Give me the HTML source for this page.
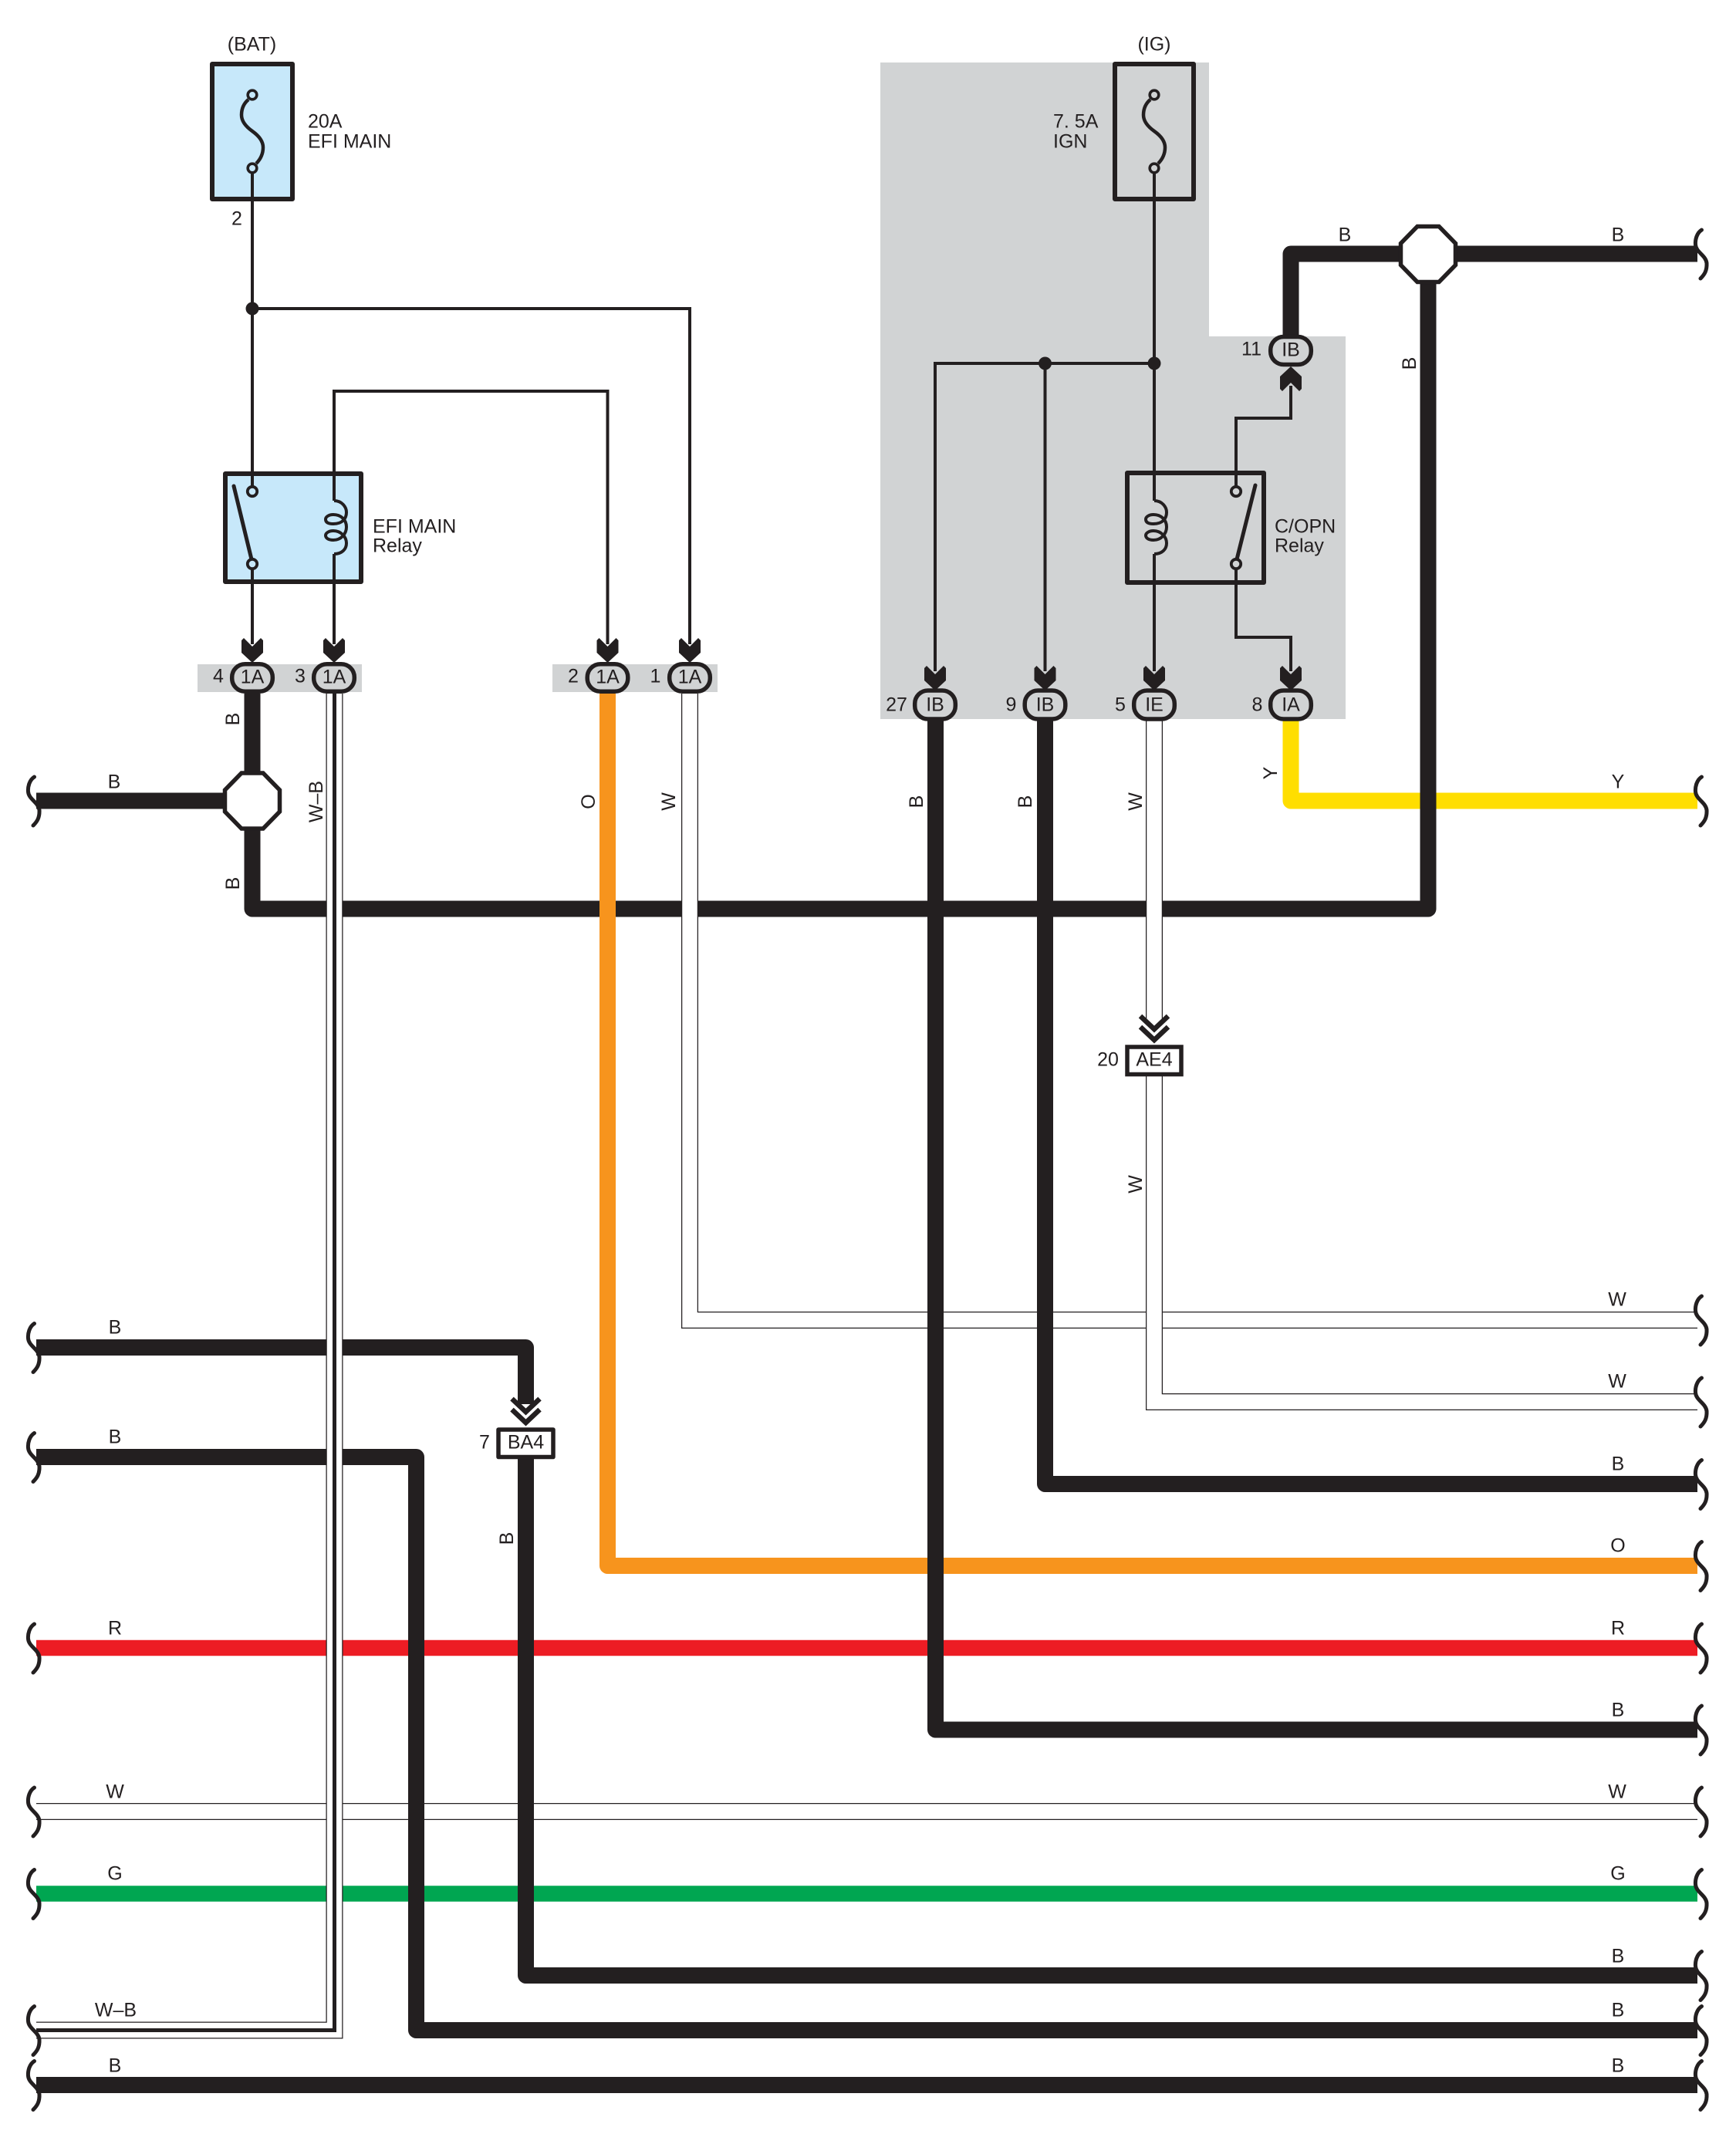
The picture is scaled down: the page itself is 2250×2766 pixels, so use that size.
<!DOCTYPE html>
<html><head><meta charset="utf-8"><title>Wiring diagram</title>
<style>
html,body{margin:0;padding:0;background:#fff}
svg{display:block}
text{font-family:"Liberation Sans",sans-serif;font-size:25px;fill:#231f20}
.m{text-anchor:middle}
.w{fill:none;stroke:#231f20;stroke-width:4;stroke-linejoin:miter}
.k{fill:none;stroke:#231f20;stroke-width:21;stroke-linejoin:round}
.bx{stroke:#231f20;stroke-width:6;stroke-linejoin:round}
.pill{fill:#d1d3d4;stroke:#231f20;stroke-width:5.5}
.brk{fill:none;stroke:#231f20;stroke-width:5;stroke-linecap:round}
</style></head><body>
<svg xmlns="http://www.w3.org/2000/svg" width="2250" height="2766" viewBox="0 0 2250 2766">
<defs>
<path id="bl" class="brk" d="M44.5,-31 C38,-27 36,-18 36.5,-12 C37,-2 50,2 51,12 C51.5,22 48,27 43,32"/>
<path id="br" class="brk" d="M2205.5,-31 C2199,-27 2197,-18 2197.5,-12 C2198,-2 2211,2 2212,12 C2212.5,22 2209,27 2204,32"/>
<polygon id="ah" fill="#231f20" points="-11,0 -14,3 -14,19 0,32 14,19 14,3 11,0 0,11"/>
<path id="coil" fill="none" stroke="#231f20" stroke-width="4" d="M433,649 C443,649 449,657 449,664 C449,672 444,679 432,679 C424,679 422,676 422,673 C422,670 426,667 432,667 C442,667 449,674 449,683 C449,692 442,700 432,700 C425,700 422,697 422,694 C422,691 426,688 432,688 C442,688 449,696 449,704 C449,712 443,718 433,718"/>
<path id="fs" fill="none" stroke="#231f20" stroke-width="4.5" d="M322,129 C316,134 313,141 313,149 C313,158 320,165 327,170 C334,175 341,182 341,191 C341,199 338,206 332,212"/>
<polygon id="oct" fill="#fff" stroke="#231f20" stroke-width="5.5" points="-14,-36 14,-36 35.5,-14 35.5,14 14,36 -14,36 -35.5,14 -35.5,-14"/>
<g id="chev" fill="none" stroke="#231f20" stroke-width="6.5"><polyline points="-18,-37 0,-20 18,-37"/><polyline points="-18,-23 0,-6 18,-23"/></g>
</defs>

<!-- gray regions -->
<polygon fill="#d1d3d4" points="1141,81 1567,81 1567,436 1744,436 1744,932 1141,932"/>
<rect x="256" y="861" width="213" height="36" fill="#d1d3d4"/>
<rect x="716" y="861" width="214" height="36" fill="#d1d3d4"/>

<!-- coloured wires under black -->
<path d="M1673,933 V1038 H2200" class="k" style="stroke:#ffde00"/>
<path d="M47,2136 H2200" fill="none" stroke="#ed1c24" stroke-width="20.5"/>
<path d="M47,2454.5 H2200" fill="none" stroke="#00a651" stroke-width="20.5"/>
<path d="M47,2348 H2200" fill="none" stroke="#231f20" stroke-width="22"/>
<path d="M47,2348 H2200" fill="none" stroke="#fff" stroke-width="19.5"/>

<!-- black main -->
<path d="M327,899 V1178 H1851 V368" class="k"/>
<path d="M47,1038 H300" class="k"/>

<!-- orange -->
<path d="M787.5,899 V2029.5 H2200" class="k" style="stroke:#f7941d"/>

<!-- W from pin 1 -->
<path d="M894,899 V1711 H2200" fill="none" stroke="#231f20" stroke-width="22"/>
<path d="M894,899 V1711 H2200" fill="none" stroke="#fff" stroke-width="19.5"/>

<!-- black wires -->
<path d="M1212.5,933 V2242 H2200" class="k"/>
<path d="M1354.5,933 V1923.5 H2200" class="k"/>
<path d="M47,1746.5 H681.5 V1820" class="k"/>
<path d="M681.5,1890 V2560.5 H2200" class="k"/>
<path d="M47,1888.5 H539.5 V2631.5 H2200" class="k"/>
<path d="M47,2702.5 H2200" class="k"/>
<path d="M1673,434 V329 H1830" class="k"/>
<path d="M1870,329 H2200" class="k"/>

<!-- W from IE -->
<path d="M1496,933 V1322 M1496,1395 V1817 H2200" fill="none" stroke="#231f20" stroke-width="22"/>
<path d="M1496,933 V1322 M1496,1395 V1817 H2200" fill="none" stroke="#fff" stroke-width="19.5"/>

<!-- W-B -->
<path d="M433.5,899 V2631.5 H47" fill="none" stroke="#231f20" stroke-width="22"/>
<path d="M433.5,899 V2631.5 H47" fill="none" stroke="#fff" stroke-width="19.5"/>
<path d="M433.5,899 V2631.5 H47" fill="none" stroke="#231f20" stroke-width="5"/>

<!-- Fuse 1 -->
<rect x="275" y="83" width="104" height="175" fill="#c7e8fa" class="bx"/>
<use href="#fs"/>
<circle cx="327" cy="123" r="5.8" fill="#c7e8fa" stroke="#231f20" stroke-width="3.6"/>
<circle cx="327" cy="218" r="5.8" fill="#c7e8fa" stroke="#231f20" stroke-width="3.6"/>
<!-- Fuse 2 -->
<rect x="1445" y="83" width="102" height="175" fill="none" class="bx"/>
<use href="#fs" x="1169"/>
<circle cx="1496" cy="123" r="5.8" fill="#d1d3d4" stroke="#231f20" stroke-width="3.6"/>
<circle cx="1496" cy="218" r="5.8" fill="#d1d3d4" stroke="#231f20" stroke-width="3.6"/>

<!-- Relay 1 -->
<rect x="292" y="614" width="176" height="140" fill="#c7e8fa" class="bx"/>
<use href="#coil"/>
<line x1="303" y1="630" x2="326" y2="725" stroke="#231f20" stroke-width="5" stroke-linecap="round"/>
<circle cx="327" cy="637" r="6.2" fill="#c7e8fa" stroke="#231f20" stroke-width="3.8"/>
<circle cx="327" cy="731" r="6.2" fill="#c7e8fa" stroke="#231f20" stroke-width="3.8"/>
<!-- Relay 2 -->
<rect x="1461" y="613" width="177" height="142" fill="none" class="bx"/>
<use href="#coil" x="1063"/>
<line x1="1627" y1="629" x2="1603" y2="725" stroke="#231f20" stroke-width="5" stroke-linecap="round"/>
<circle cx="1602" cy="637" r="6.2" fill="#d1d3d4" stroke="#231f20" stroke-width="3.8"/>
<circle cx="1602" cy="731" r="6.2" fill="#d1d3d4" stroke="#231f20" stroke-width="3.8"/>

<!-- thin wires -->
<path class="w" d="M327,225 V631"/>
<path class="w" d="M327,400 H894 V835"/>
<path class="w" d="M433,649 V507 H787.5 V835"/>
<path class="w" d="M327,737 V835 M433,718 V835"/>
<path class="w" d="M1496,225 V649 M1496,718 V870"/>
<path class="w" d="M1212,870 V471 H1496"/>
<path class="w" d="M1354.5,471 V870"/>
<path class="w" d="M1673,500 V542 H1602 V631"/>
<path class="w" d="M1602,737 V826 H1673 V870"/>
<circle cx="327" cy="400" r="8.5" fill="#231f20"/>
<circle cx="1354.5" cy="471" r="8.5" fill="#231f20"/>
<circle cx="1496" cy="471" r="8.5" fill="#231f20"/>

<!-- octagons -->
<use href="#oct" x="327" y="1038"/>
<use href="#oct" x="1851" y="329.5"/>

<!-- arrows -->
<use href="#ah" x="327" y="827"/>
<use href="#ah" x="433" y="827"/>
<use href="#ah" x="787.5" y="827"/>
<use href="#ah" x="894" y="827"/>
<use href="#ah" x="1212" y="863"/>
<use href="#ah" x="1354.5" y="863"/>
<use href="#ah" x="1496" y="863"/>
<use href="#ah" x="1673" y="863"/>
<polygon fill="#231f20" points="1662,507 1659,504 1659,488 1673,475 1687,488 1687,504 1684,507 1673,496"/>

<!-- pills -->
<rect class="pill" x="300.7" y="860.7" width="52.6" height="35.6" rx="17" />
<rect class="pill" x="406.7" y="860.7" width="52.6" height="35.6" rx="17" />
<rect class="pill" x="761.2" y="860.7" width="52.6" height="35.6" rx="17" />
<rect class="pill" x="867.7" y="860.7" width="52.6" height="35.6" rx="17" />
<rect class="pill" x="1185.7" y="895" width="52.6" height="37" rx="17" />
<rect class="pill" x="1328.2" y="895" width="52.6" height="37" rx="17" />
<rect class="pill" x="1469.7" y="895" width="52.6" height="37" rx="17" />
<rect class="pill" x="1646.7" y="895" width="52.6" height="37" rx="17" />
<rect class="pill" x="1646.7" y="436.5" width="52.6" height="36" rx="17" />

<!-- boxes -->
<use href="#chev" x="1496" y="1354"/>
<rect x="1461" y="1357" width="70" height="35.5" fill="#fff" stroke="#231f20" stroke-width="5.5"/>
<use href="#chev" x="681.5" y="1850"/>
<rect x="646" y="1853" width="71" height="35.5" fill="#fff" stroke="#231f20" stroke-width="5.5" stroke-linejoin="round"/>

<!-- brackets left -->
<use href="#bl" y="1038"/><use href="#bl" y="1746.5"/><use href="#bl" y="1888.5"/><use href="#bl" y="2136"/><use href="#bl" y="2348"/><use href="#bl" y="2454.5"/><use href="#bl" y="2631.5"/><use href="#bl" y="2702.5"/>
<!-- brackets right -->
<use href="#br" y="329"/><use href="#br" y="1038"/><use href="#br" y="1711"/><use href="#br" y="1817"/><use href="#br" y="1923.5"/><use href="#br" y="2029.5"/><use href="#br" y="2136"/><use href="#br" y="2242"/><use href="#br" y="2348"/><use href="#br" y="2454.5"/><use href="#br" y="2560.5"/><use href="#br" y="2631.5"/><use href="#br" y="2702.5"/>

<!-- labels -->
<g transform="translate(0,-1.5)">
<text class="m" x="326.5" y="67">(BAT)</text>
<text class="m" x="1496" y="67">(IG)</text>
<text x="399" y="167">20A</text>
<text x="399" y="193">EFI MAIN</text>
<text class="m" x="307" y="293">2</text>
<text x="1365" y="167">7. 5A</text>
<text x="1365" y="193">IGN</text>
<text x="483" y="692">EFI MAIN</text>
<text x="483" y="717">Relay</text>
<text x="1652" y="692">C/OPN</text>
<text x="1652" y="717">Relay</text>

<text class="m" x="327" y="887">1A</text>
<text class="m" x="433" y="887">1A</text>
<text class="m" x="787.5" y="887">1A</text>
<text class="m" x="894" y="887">1A</text>
<text class="m" x="283" y="886">4</text>
<text class="m" x="389" y="886">3</text>
<text class="m" x="743" y="886">2</text>
<text class="m" x="849.5" y="886">1</text>

<text class="m" x="1212" y="923">IB</text>
<text class="m" x="1354.5" y="923">IB</text>
<text class="m" x="1496" y="923">IE</text>
<text class="m" x="1673" y="923">IA</text>
<text class="m" x="1673" y="463">IB</text>
<text class="m" x="1162" y="923">27</text>
<text class="m" x="1310.5" y="923">9</text>
<text class="m" x="1452" y="923">5</text>
<text class="m" x="1629.5" y="923">8</text>
<text class="m" x="1622" y="462">11</text>

<text class="m" x="1496" y="1383">AE4</text>
<text class="m" x="1436" y="1383">20</text>
<text class="m" x="681.5" y="1879">BA4</text>
<text class="m" x="628" y="1879">7</text>

<!-- wire labels horizontal -->
<text class="m" x="1743" y="314">B</text>
<text class="m" x="2097" y="314">B</text>
<text class="m" x="148" y="1023">B</text>
<text class="m" x="2097" y="1023">Y</text>
<text class="m" x="2096" y="1694">W</text>
<text class="m" x="2096" y="1800">W</text>
<text class="m" x="2097" y="1907">B</text>
<text class="m" x="2097" y="2013">O</text>
<text class="m" x="2097" y="2120">R</text>
<text class="m" x="2097" y="2226">B</text>
<text class="m" x="2096" y="2332">W</text>
<text class="m" x="2097" y="2438">G</text>
<text class="m" x="2097" y="2545">B</text>
<text class="m" x="2097" y="2615">B</text>
<text class="m" x="2097" y="2687">B</text>
<text class="m" x="149" y="1730">B</text>
<text class="m" x="149" y="1872">B</text>
<text class="m" x="149" y="2120">R</text>
<text class="m" x="149" y="2332">W</text>
<text class="m" x="149" y="2438">G</text>
<text class="m" x="150" y="2615">W–B</text>
<text class="m" x="149" y="2687">B</text>
</g>

<!-- wire labels rotated -->
<text class="m" y="9" transform="translate(301,932) rotate(-90)">B</text>
<text class="m" y="9" transform="translate(301,1145) rotate(-90)">B</text>
<text class="m" y="9" transform="translate(409,1039) rotate(-90)">W–B</text>
<text class="m" y="9" transform="translate(762,1039) rotate(-90)">O</text>
<text class="m" y="9" transform="translate(866,1039) rotate(-90)">W</text>
<text class="m" y="9" transform="translate(1187,1039) rotate(-90)">B</text>
<text class="m" y="9" transform="translate(1328,1039) rotate(-90)">B</text>
<text class="m" y="9" transform="translate(1471,1039) rotate(-90)">W</text>
<text class="m" y="9" transform="translate(1646,1002) rotate(-90)">Y</text>
<text class="m" y="9" transform="translate(1826,471) rotate(-90)">B</text>
<text class="m" y="9" transform="translate(1471,1535) rotate(-90)">W</text>
<text class="m" y="9" transform="translate(656,1994) rotate(-90)">B</text>
</svg>
</body></html>
